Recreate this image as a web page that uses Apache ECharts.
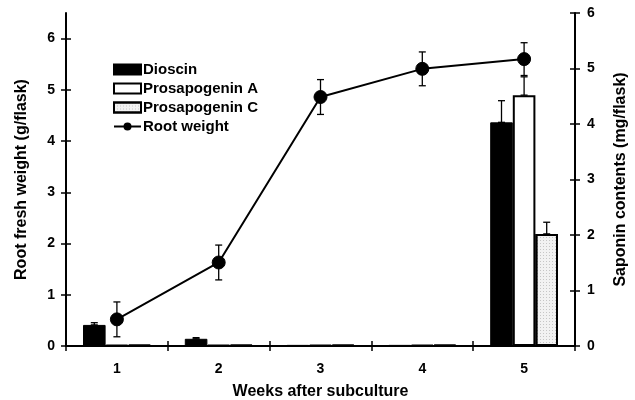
<!DOCTYPE html>
<html>
<head>
<meta charset="utf-8">
<script src="https://cdn.jsdelivr.net/npm/echarts@6/dist/echarts.min.js"></script>
<style>
  html, body { margin: 0; padding: 0; background: #fff; }
  #chart { width: 635px; height: 400px; }
</style>
</head>
<body>
<div id="chart"></div>
<script>
// data
const weeks = ['1', '2', '3', '4', '5'];
const dioscin = [0.38, 0.13, 0.02, 0.02, 4.03];
const dioscinErr = [0.04, 0.02, 0, 0, 0.39];
const prosA = [0.02, 0.02, 0.02, 0.02, 4.52];
const prosAErr = [0, 0, 0, 0, 0.33];
const prosC = [0.02, 0.02, 0.02, 0.02, 2.02];
const prosCErr = [0, 0, 0, 0, 0.21];
const rootWeight = [0.52, 1.63, 4.86, 5.41, 5.6];
const rootErr = [0.34, 0.34, 0.34, 0.33, 0.32];
const leftTicks = [0, 1, 2, 3, 4, 5, 6];
const rightTicks = [0, 1, 2, 3, 4, 5, 6];

const font = 'Liberation Sans, Arial, sans-serif';
const BAR_W = 0.222; // fraction of band

const myChart = echarts.init(document.getElementById('chart'), null, {renderer: 'canvas'});

// error bar drawer; slot = offset in bar widths from category centre
const errBar = (slot) => (params, api) => {
  const i = api.value(0);
  const top = api.coord([i, api.value(1) + api.value(2)]);
  const bot = api.coord([i, api.value(1) - api.value(3)]);
  const band = api.size([1, 0])[0];
  const x = top[0] + slot * band * BAR_W;
  const cap = 3.5;
  const style = {stroke: '#000', lineWidth: 1.3};
  return {
    type: 'group',
    children: [
      {type: 'line', shape: {x1: x, y1: top[1], x2: x, y2: bot[1]}, style},
      {type: 'line', shape: {x1: x - cap, y1: top[1], x2: x + cap, y2: top[1]}, style},
      {type: 'line', shape: {x1: x - cap, y1: bot[1], x2: x + cap, y2: bot[1]}, style}
    ]
  };
};

const barErrData = (vals, errs) =>
  vals.map((v, i) => [i, v, errs[i], 0]).filter(d => d[2] > 0);

const axisLine = {show: true, lineStyle: {color: '#000', width: 2}};
const tickStyle = {color: '#000', width: 1.5};
const labelStyle = {color: '#000', fontFamily: font, fontWeight: 'bold', fontSize: 14};
const nameStyle = {color: '#000', fontFamily: font, fontWeight: 'bold', fontSize: 16};

myChart.setOption({
  animation: false,
  backgroundColor: '#fff',
  grid: {left: 66, right: 60, top: 13, bottom: 54, outerBoundsMode: 'none', containLabel: false},
  legend: {
    orient: 'vertical',
    left: 113,
    top: 62,
    padding: 0,
    itemWidth: 27,
    itemHeight: 10,
    itemGap: 4,
    textStyle: {color: '#000', fontFamily: font, fontWeight: 'bold', fontSize: 15, padding: [0, 0, 0, -3]},
    data: [
      {name: 'Dioscin', icon: 'rect'},
      {name: 'Prosapogenin A', icon: 'rect'},
      {name: 'Prosapogenin C', icon: 'rect'},
      'Root weight'
    ]
  },
  xAxis: [
    {
      type: 'category',
      data: weeks,
      name: 'Weeks after subculture',
      nameLocation: 'middle',
      nameGap: 38,
      nameTextStyle: nameStyle,
      axisLine,
      axisTick: {show: true, length: 5, lineStyle: tickStyle},
      axisLabel: {...labelStyle, margin: 16}
    },
    {
      // inside half of the crossing ticks
      type: 'category',
      data: weeks,
      position: 'bottom',
      axisLine: {show: false},
      axisTick: {show: true, inside: true, length: 5, lineStyle: tickStyle},
      axisLabel: {show: false}
    }
  ],
  yAxis: [
    {
      type: 'value',
      min: 0,
      max: 6.5,
      name: 'Root fresh weight (g/flask)',
      nameLocation: 'middle',
      nameRotate: 90,
      nameGap: 36,
      nameTextStyle: nameStyle,
      axisLine,
      splitLine: {show: false},
      axisTick: {show: true, length: 5, lineStyle: tickStyle, customValues: leftTicks},
      axisLabel: {...labelStyle, margin: 11, customValues: leftTicks}
    },
    {
      type: 'value',
      min: 0,
      max: 6,
      position: 'right',
      name: 'Saponin contents (mg/flask)',
      nameLocation: 'middle',
      nameRotate: 90,
      nameGap: 38,
      nameTextStyle: nameStyle,
      axisLine,
      splitLine: {show: false},
      axisTick: {show: true, length: 5, lineStyle: tickStyle, customValues: rightTicks},
      axisLabel: {...labelStyle, margin: 12, customValues: rightTicks}
    },
    {
      type: 'value',
      min: 0,
      max: 6.5,
      position: 'left',
      axisLine: {show: false},
      splitLine: {show: false},
      axisTick: {show: true, inside: true, length: 5, lineStyle: tickStyle, customValues: leftTicks},
      axisLabel: {show: false}
    },
    {
      type: 'value',
      min: 0,
      max: 6,
      position: 'right',
      axisLine: {show: false},
      splitLine: {show: false},
      axisTick: {show: true, inside: true, length: 5, lineStyle: tickStyle, customValues: rightTicks},
      axisLabel: {show: false}
    }
  ],
  series: [
    {
      name: 'Dioscin',
      type: 'bar',
      yAxisIndex: 1,
      data: dioscin,
      barWidth: (BAR_W * 100) + '%',
      barGap: '0%',
      itemStyle: {color: '#000', borderColor: '#000', borderWidth: 1}
    },
    {
      name: 'Prosapogenin A',
      type: 'bar',
      yAxisIndex: 1,
      data: prosA,
      barWidth: (BAR_W * 100) + '%',
      barGap: '0%',
      itemStyle: {color: '#fff', borderColor: '#000', borderWidth: 2}
    },
    {
      name: 'Prosapogenin C',
      type: 'bar',
      yAxisIndex: 1,
      data: prosC,
      barWidth: (BAR_W * 100) + '%',
      barGap: '0%',
      itemStyle: {
        color: '#f2f2f2',
        borderColor: '#000',
        borderWidth: 2,
        decal: {
          symbol: 'rect',
          symbolSize: 1,
          color: 'rgba(0,0,0,0.18)',
          dashArrayX: [1, 2],
          dashArrayY: [1, 2],
          rotation: 0
        }
      }
    },
    {
      type: 'custom',
      yAxisIndex: 1,
      renderItem: errBar(-1),
      data: barErrData(dioscin, dioscinErr),
      z: 3
    },
    {
      type: 'custom',
      yAxisIndex: 1,
      renderItem: errBar(0),
      data: barErrData(prosA, prosAErr),
      z: 3
    },
    {
      type: 'custom',
      yAxisIndex: 1,
      renderItem: errBar(1),
      data: barErrData(prosC, prosCErr),
      z: 3
    },
    {
      type: 'custom',
      yAxisIndex: 0,
      renderItem: errBar(0),
      data: rootWeight.map((v, i) => [i, v, rootErr[i], rootErr[i]]),
      z: 4
    },
    {
      name: 'Root weight',
      type: 'line',
      yAxisIndex: 0,
      data: rootWeight,
      symbol: 'circle',
      symbolSize: 13,
      lineStyle: {color: '#000', width: 2},
      itemStyle: {color: '#000', borderColor: '#000'},
      z: 5
    }
  ]
});
</script>
</body>
</html>
